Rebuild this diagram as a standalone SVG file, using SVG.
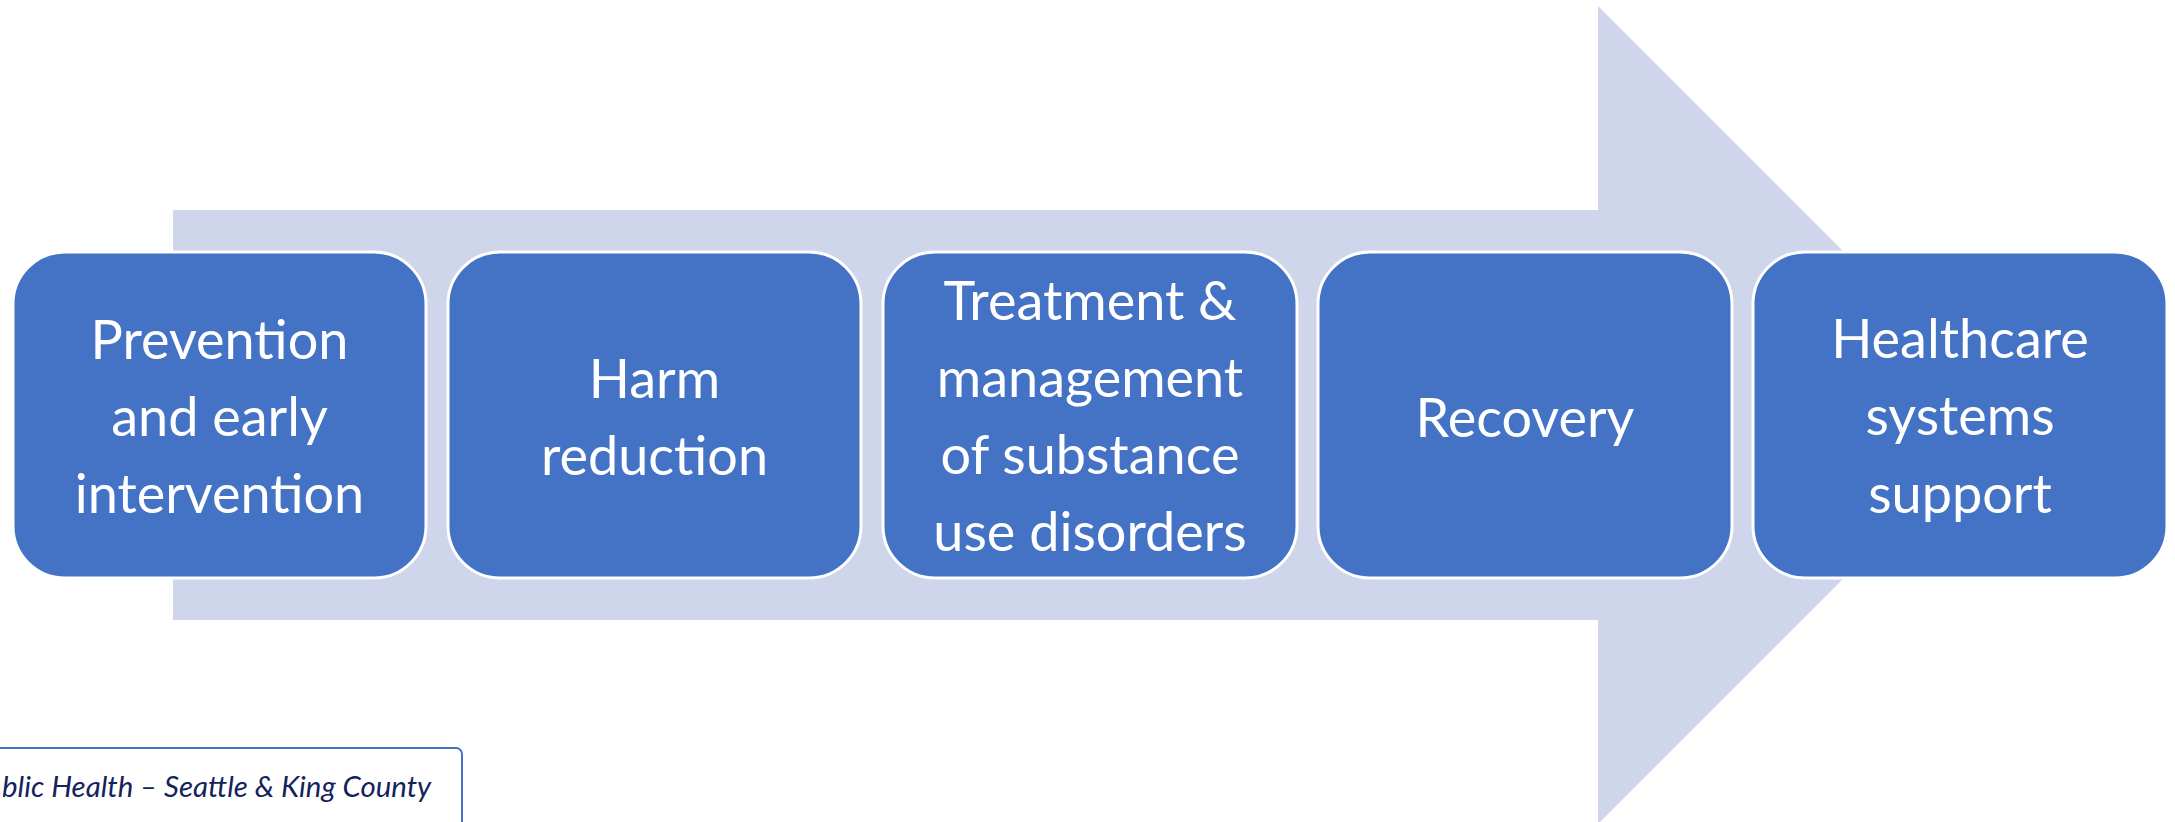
<svg xmlns="http://www.w3.org/2000/svg" width="2175" height="822" viewBox="0 0 2175 822">
<style>
.box{fill:#4472C4;stroke:#FFFFFF;stroke-width:3}
.lbl{font-family:Lato,"Noto Sans",sans-serif;font-size:54px;fill:#FFFFFF;text-anchor:middle}
.src{font-family:Lato,"Noto Sans",sans-serif;font-style:italic;font-size:29.4px;fill:#13235B}
</style>
<rect width="2175" height="822" fill="#FFFFFF"/>
<g id="connectors">
<path id="arrow" d="M173 210 H1598 V6 L2007 415 L1598 824 V620 H173 Z" fill="#CFD5EA"/>
</g>
<g id="n1">
<rect class="box" x="13" y="252" width="413" height="326" rx="52"/>
<text class="lbl" x="219.5" y="359">Prevention</text>
<text class="lbl" x="219.5" y="436">and early</text>
<text class="lbl" x="219.5" y="513">intervention</text>
</g>
<g id="n2">
<rect class="box" x="448" y="252" width="413" height="326" rx="52"/>
<text class="lbl" x="654.5" y="398">Harm</text>
<text class="lbl" x="654.5" y="475">reduction</text>
</g>
<g id="n3">
<rect class="box" x="883" y="252" width="414" height="326" rx="52"/>
<text class="lbl" x="1090" y="320">Treatment &amp;</text>
<text class="lbl" x="1090" y="397">management</text>
<text class="lbl" x="1090" y="474">of substance</text>
<text class="lbl" x="1090" y="551">use disorders</text>
</g>
<g id="n4">
<rect class="box" x="1318" y="252" width="414" height="326" rx="52"/>
<text class="lbl" x="1525" y="437">Recovery</text>
</g>
<g id="n5">
<rect class="box" x="1753" y="252" width="414" height="326" rx="52"/>
<text class="lbl" x="1960" y="358">Healthcare</text>
<text class="lbl" x="1960" y="435">systems</text>
<text class="lbl" x="1960" y="513">support</text>
</g>
<g id="source">
<rect x="-20" y="748" width="482" height="100" rx="6" fill="#FFFFFF" stroke="#4472C4" stroke-width="2"/>
<text class="src" x="2" y="797">blic Health – Seattle &amp; King County</text>
</g>
</svg>
